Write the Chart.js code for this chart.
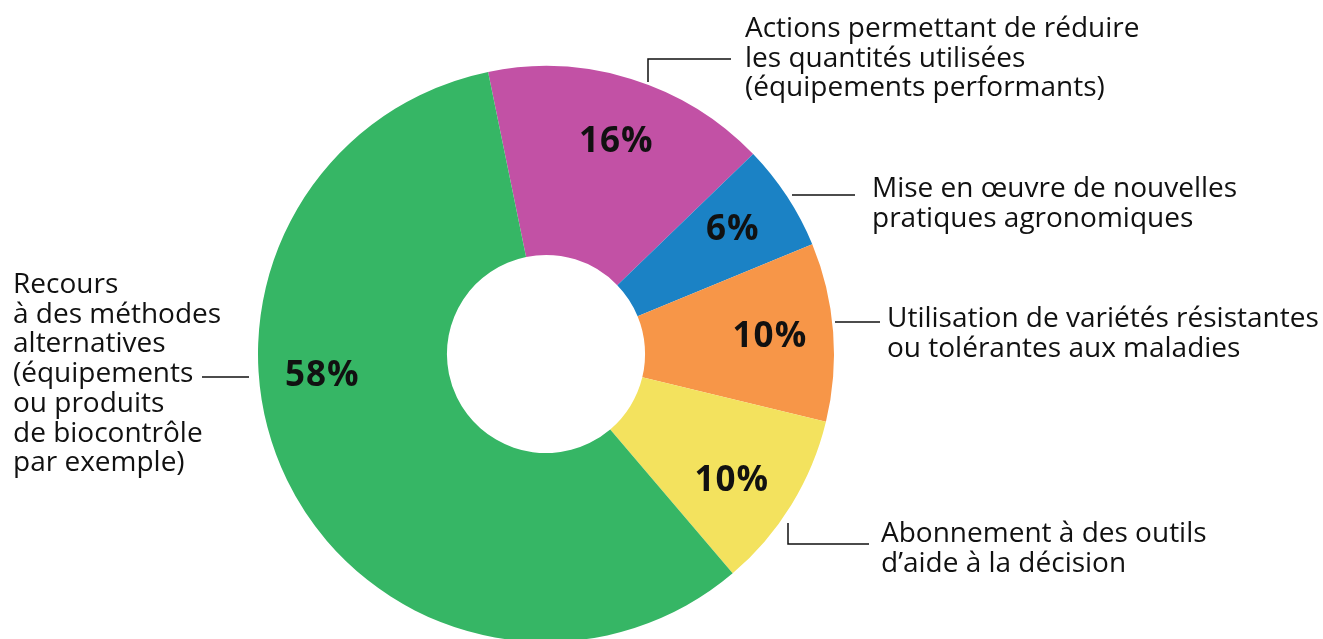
<!DOCTYPE html>
<html>
<head>
<meta charset="utf-8">
<script src="https://cdn.jsdelivr.net/npm/chart.js@4"></script>
<style>
  html, body { margin: 0; padding: 0; background: #fff; overflow: hidden; }
  #wrap { width: 1323px; height: 660px; }
</style>
</head>
<body>
<div id="wrap"><canvas id="pieChart" width="1323" height="660"></canvas></div>
<script>
// Données du graphique
const categories = [
    'Actions permettant de réduire les quantités utilisées (équipements performants)',
    'Mise en œuvre de nouvelles pratiques agronomiques',
    'Utilisation de variétés résistantes ou tolérantes aux maladies',
    'Abonnement à des outils d\'aide à la décision',
    'Recours à des méthodes alternatives (équipements ou produits de biocontrôle par exemple)'
];
const valeurs = [16, 6, 10, 10, 58];
const couleurs = ['#c251a5', '#1b82c5', '#f79648', '#f3e25e', '#36b665'];

// décalage angulaire (degrés) des pourcentages par rapport au milieu de la part
const decalageEtiquettes = [1, -0.6, -0.3, 2.6, 20.7];

// Étiquettes extérieures avec leurs traits de rappel
const legendes = [
    { lignes: ['Actions permettant de réduire', 'les quantités utilisées', '(équipements performants)'],
      x: 745, y: 37, trait: [[648, 82], [648, 59], [731, 59]] },
    { lignes: ['Mise en œuvre de nouvelles', 'pratiques agronomiques'],
      x: 872, y: 197, trait: [[792, 195], [855, 195]] },
    { lignes: ['Utilisation de variétés résistantes', 'ou tolérantes aux maladies'],
      x: 887, y: 327, trait: [[835, 322], [880, 322]] },
    { lignes: ['Abonnement à des outils', 'd\u2019aide à la décision'],
      x: 881, y: 542, trait: [[788, 523], [788, 544], [869, 544]] },
    { lignes: ['Recours', 'à des méthodes', 'alternatives', '(équipements', 'ou produits', 'de biocontrôle', 'par exemple)'],
      x: 13, y: 293, trait: [[202, 377], [249, 377]] }
];

const etiquettesPlugin = {
    id: 'etiquettes',
    afterDatasetsDraw(chart) {
        const ctx = chart.ctx;
        const meta = chart.getDatasetMeta(0);

        // pourcentages dans les parts
        ctx.save();
        ctx.fillStyle = '#111';
        ctx.font = 'bold 35px "Open Sans"';
        ctx.letterSpacing = '1px';
        ctx.textAlign = 'center';
        ctx.textBaseline = 'middle';
        meta.data.forEach((arc, i) => {
            const p = arc.getProps(['x', 'y', 'startAngle', 'endAngle', 'outerRadius'], true);
            const a = (p.startAngle + p.endAngle) / 2 + decalageEtiquettes[i] * Math.PI / 180;
            const r = p.outerRadius * 0.78;
            ctx.fillText(valeurs[i] + '%', p.x + Math.cos(a) * r, p.y + Math.sin(a) * r + 1);
        });
        ctx.restore();

        // textes extérieurs
        ctx.save();
        ctx.fillStyle = '#111';
        ctx.strokeStyle = '#111';
        ctx.lineWidth = 1.5;
        ctx.font = '28px "Open Sans"';
        ctx.textAlign = 'left';
        ctx.textBaseline = 'alphabetic';
        legendes.forEach(l => {
            l.lignes.forEach((t, k) => ctx.fillText(t, l.x, l.y + k * 29.7));
            ctx.beginPath();
            l.trait.forEach((pt, k) => k === 0 ? ctx.moveTo(pt[0], pt[1]) : ctx.lineTo(pt[0], pt[1]));
            ctx.stroke();
        });
        ctx.restore();
    }
};

const ctx = document.getElementById('pieChart').getContext('2d');
new Chart(ctx, {
    type: 'doughnut',
    data: {
        labels: categories,
        datasets: [{
            data: valeurs,
            backgroundColor: couleurs,
            borderWidth: 0
        }]
    },
    options: {
        responsive: false,
        animation: false,
        rotation: -11.6,
        cutout: '34.4%',
        layout: { padding: { top: 66, left: 258, right: 489, bottom: 18 } },
        plugins: {
            legend: { display: false },
            tooltip: { enabled: false }
        }
    },
    plugins: [etiquettesPlugin]
});
</script>
</body>
</html>
